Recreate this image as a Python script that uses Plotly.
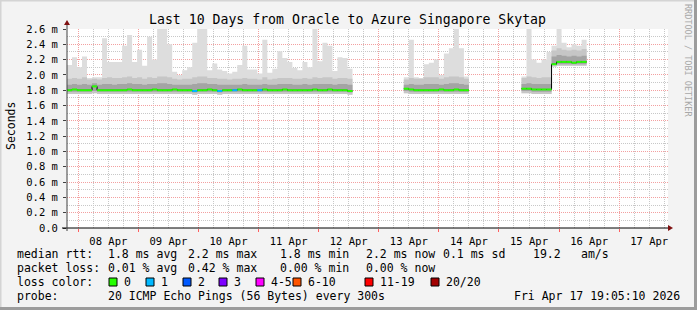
import plotly.graph_objects as go
from datetime import datetime, timedelta

# ---------------- data ----------------
title_text = "Last 10 Days from Oracle to Azure Singapore Skytap"
y_title = "Seconds"
range_start = "2026-04-07 19:30"
range_end = "2026-04-17 19:30"
step_hours = 2
seg_starts = ["2026-04-07 19:30", "2026-04-13 10:00", "2026-04-15 09:00"]
seg_lengths = [57, 13, 13]

max_ms = [
    2.13, 2.23, 2.10, 2.24, 1.96, 1.97, 1.97, 2.48, 2.17, 2.17,
    2.17, 2.38, 2.52, 2.17, 2.33, 2.12, 2.50, 2.20, 2.60, 2.60,
    2.40, 2.04, 2.00, 2.06, 2.10, 2.42, 2.60, 2.60, 2.06, 2.15,
    2.07, 2.05, 2.02, 2.04, 2.13, 2.38, 2.07, 2.07, 2.02, 2.46,
    2.03, 2.08, 2.31, 2.22, 2.17, 2.09, 2.06, 2.17, 2.10, 2.60,
    2.18, 2.42, 2.38, 2.05, 2.23, 2.22, 2.08,
    1.97, 2.46, 1.97, 1.96, 2.14, 2.16, 2.20, 2.00, 2.28, 2.35, 2.60, 2.35, 1.98,
    1.98, 2.60, 2.20, 2.16, 2.20, 2.30, 2.38, 2.60, 2.42, 2.36, 2.40, 2.38, 2.46,
]
p90_ms = [
    1.95, 1.96, 1.95, 1.97, 1.94, 1.95, 1.94, 1.96, 1.97, 1.96,
    1.96, 1.97, 1.98, 1.96, 1.97, 1.95, 1.97, 1.96, 1.98, 1.98,
    1.97, 1.95, 1.94, 1.95, 1.95, 1.97, 1.98, 1.98, 1.96, 1.96,
    1.95, 1.95, 1.94, 1.95, 1.95, 1.96, 1.95, 1.95, 1.94, 1.97,
    1.94, 1.95, 1.96, 1.96, 1.96, 1.95, 1.95, 1.96, 1.95, 1.97,
    1.96, 1.97, 1.97, 1.95, 1.96, 1.96, 1.95,
    1.94, 1.96, 1.95, 1.95, 1.97, 1.97, 1.97, 1.95, 1.97, 1.98, 1.98, 1.97, 1.95,
    1.96, 1.98, 1.97, 1.96, 1.97, 1.97, 2.32, 2.35, 2.33, 2.32, 2.33, 2.32, 2.34,
]
p75_ms = [
    1.87, 1.88, 1.87, 1.88, 1.87, 1.89, 1.87, 1.88, 1.88, 1.87,
    1.88, 1.88, 1.89, 1.88, 1.88, 1.87, 1.88, 1.88, 1.89, 1.89,
    1.88, 1.87, 1.87, 1.87, 1.87, 1.88, 1.89, 1.89, 1.88, 1.88,
    1.87, 1.87, 1.87, 1.87, 1.87, 1.88, 1.87, 1.87, 1.87, 1.88,
    1.87, 1.87, 1.88, 1.88, 1.88, 1.87, 1.87, 1.88, 1.87, 1.88,
    1.88, 1.88, 1.88, 1.87, 1.88, 1.88, 1.87,
    1.87, 1.88, 1.87, 1.87, 1.88, 1.88, 1.88, 1.87, 1.88, 1.89, 1.89, 1.88, 1.87,
    1.88, 1.89, 1.88, 1.88, 1.88, 1.88, 2.24, 2.26, 2.25, 2.24, 2.25, 2.24, 2.25,
]
median_ms = [
    1.80, 1.81, 1.80, 1.80, 1.80, 1.85, 1.80, 1.80, 1.80, 1.80,
    1.80, 1.80, 1.81, 1.80, 1.80, 1.80, 1.80, 1.81, 1.80, 1.80,
    1.80, 1.81, 1.80, 1.80, 1.80, 1.79, 1.80, 1.80, 1.81, 1.80,
    1.79, 1.80, 1.80, 1.80, 1.81, 1.80, 1.80, 1.80, 1.80, 1.81,
    1.80, 1.80, 1.80, 1.81, 1.80, 1.80, 1.80, 1.80, 1.80, 1.81,
    1.80, 1.80, 1.81, 1.80, 1.80, 1.80, 1.79,
    1.82, 1.81, 1.80, 1.80, 1.80, 1.80, 1.80, 1.81, 1.80, 1.80, 1.81, 1.80, 1.80,
    1.82, 1.82, 1.81, 1.81, 1.81, 1.81, 2.14, 2.17, 2.17, 2.17, 2.16, 2.17, 2.17,
]
p25_ms = [
    1.78, 1.78, 1.78, 1.78, 1.78, 1.79, 1.78, 1.78, 1.78, 1.78,
    1.78, 1.78, 1.78, 1.78, 1.78, 1.78, 1.78, 1.78, 1.78, 1.78,
    1.78, 1.78, 1.78, 1.78, 1.78, 1.77, 1.78, 1.78, 1.78, 1.78,
    1.77, 1.78, 1.78, 1.78, 1.78, 1.78, 1.78, 1.78, 1.78, 1.78,
    1.78, 1.78, 1.78, 1.78, 1.78, 1.78, 1.78, 1.78, 1.78, 1.78,
    1.78, 1.78, 1.78, 1.78, 1.78, 1.78, 1.77,
    1.79, 1.78, 1.78, 1.78, 1.78, 1.78, 1.78, 1.78, 1.78, 1.78, 1.78, 1.78, 1.78,
    1.79, 1.79, 1.78, 1.78, 1.78, 1.78, 2.13, 2.14, 2.14, 2.14, 2.14, 2.14, 2.14,
]
min_ms = [
    1.75, 1.75, 1.75, 1.75, 1.75, 1.76, 1.75, 1.75, 1.75, 1.75,
    1.75, 1.75, 1.75, 1.75, 1.75, 1.75, 1.75, 1.75, 1.75, 1.75,
    1.75, 1.75, 1.75, 1.75, 1.75, 1.74, 1.75, 1.75, 1.75, 1.75,
    1.74, 1.75, 1.75, 1.75, 1.75, 1.75, 1.75, 1.75, 1.75, 1.75,
    1.75, 1.75, 1.75, 1.75, 1.75, 1.75, 1.75, 1.75, 1.75, 1.75,
    1.75, 1.75, 1.75, 1.75, 1.75, 1.75, 1.74,
    1.76, 1.75, 1.75, 1.75, 1.75, 1.75, 1.75, 1.75, 1.75, 1.75, 1.75, 1.75, 1.75,
    1.76, 1.76, 1.75, 1.75, 1.75, 1.75, 2.11, 2.12, 2.12, 2.12, 2.12, 2.12, 2.12,
]
loss_count = [0] * 83
for _i in (25, 30, 33, 38):
    loss_count[_i] = 1

y_ticks = [0.0, 0.2, 0.4, 0.6, 0.8, 1.0, 1.2, 1.4, 1.6, 1.8, 2.0, 2.2, 2.4, 2.6]
y_labels = ["0.0"] + [f"{v:.1f} m" for v in y_ticks[1:]]

loss_labels = ["0", "1", "2", "3", "4-5", "6-10", "11-19", "20/20"]
loss_palette = ["#26ff00", "#00b8ff", "#0059ff", "#7e00ff", "#ff00ff", "#ff5500", "#ff0000", "#a10000"]

rtt_stats = ["median rtt:", "1.8 ms avg", "2.2 ms max", "1.8 ms min", "2.2 ms now", "0.1 ms sd", "19.2", "am/s"]
loss_stats = ["packet loss:", "0.01 % avg", "0.42 % max", "0.00 % min", "0.00 % now"]
probe_line = ["probe:", "20 ICMP Echo Pings (56 Bytes) every 300s", "Fri Apr 17 19:05:10 2026"]
watermark = "RRDTOOL / TOBI OETIKER"

# ---------------- layout geometry ----------------
W, H = 697, 310
L, R, T, B = 67, 668, 29, 228
FONT = "DejaVu Sans Mono"


def px(x):
    return (x - L) / (R - L)


def py(y):
    return (B - y) / (B - T)


def loss_color(n):
    if n <= 0:
        return loss_palette[0]
    if n <= 3:
        return loss_palette[n]
    if n <= 5:
        return loss_palette[4]
    if n <= 10:
        return loss_palette[5]
    if n <= 19:
        return loss_palette[6]
    return loss_palette[7]


# build per-interval times
step = timedelta(hours=step_hours)
segments = []  # list of (list of start times, index offset)
idx = 0
for s, n in zip(seg_starts, seg_lengths):
    t0 = datetime.strptime(s, "%Y-%m-%d %H:%M")
    segments.append(([t0 + k * step for k in range(n)], idx))
    idx += n

fig = go.Figure()


def band(lo, hi, color):
    for times, off in segments:
        xs, ys = [], []
        for k, t in enumerate(times):
            xs += [t, t + step]
            ys += [hi[off + k], hi[off + k]]
        for k in range(len(times) - 1, -1, -1):
            t = times[k]
            xs += [t + step, t]
            ys += [lo[off + k], lo[off + k]]
        fig.add_trace(go.Scatter(x=xs, y=ys, mode="lines", fill="toself",
                                 fillcolor=color, line=dict(width=0),
                                 hoverinfo="skip", showlegend=False))


band(min_ms, max_ms, "#dddddd")
band(min_ms, p90_ms, "#c6c6c6")
band(p25_ms, p75_ms, "#a4a4a4")

# black median step line
bx, by = [], []
for times, off in segments:
    for k, t in enumerate(times):
        bx.append(t)
        by.append(median_ms[off + k])
    bx.append(times[-1] + step)
    by.append(median_ms[off + len(times) - 1])
    bx.append(None)
    by.append(None)
fig.add_trace(go.Scatter(x=bx, y=by, mode="lines", line=dict(color="#000000", width=1, shape="hv"),
                         connectgaps=False, hoverinfo="skip", showlegend=False))

# coloured median segments by loss
col_segs = {}
for times, off in segments:
    for k, t in enumerate(times):
        c = loss_color(loss_count[off + k])
        d = col_segs.setdefault(c, ([], []))
        d[0].extend([t, t + step, None])
        v = median_ms[off + k]
        d[1].extend([v, v, None])
for c, (xs, ys) in col_segs.items():
    fig.add_trace(go.Scatter(x=xs, y=ys, mode="lines", line=dict(color=c, width=2),
                             connectgaps=False, hoverinfo="skip", showlegend=False))

annotations = []
shapes = []


def text(x, y, s, size=11.5, color="#000000", anchor="left", angle=0):
    annotations.append(dict(x=px(x), y=py(y), xref="paper", yref="paper", text=s,
                            showarrow=False, xanchor=anchor, yanchor="middle",
                            textangle=angle, borderpad=0,
                            font=dict(family=FONT, size=size, color=color)))


# title
text(347, 19, title_text, size=13.2, anchor="center")
# y title
text(11, 126, y_title, size=11.5, anchor="center", angle=-90)
# watermark
text(688, 60, watermark, size=8.5, color="#a8a8a8", anchor="center", angle=90)

# legend rows
row1_x = [16, 107, 187, 279, 365, 442, 532, 580]
for x, s in zip(row1_x, rtt_stats):
    text(x, 254, s)
row2_x = [16, 107, 187, 279, 365]
for x, s in zip(row2_x, loss_stats):
    text(x, 268, s)
text(16, 282, "loss color:")
box_x = [109, 146, 183, 219, 256, 293, 365, 431]
for x, lab, col in zip(box_x, loss_labels, loss_palette):
    shapes.append(dict(type="rect", xref="paper", yref="paper",
                       x0=px(x), x1=px(x + 8), y0=py(278), y1=py(286),
                       fillcolor=col, line=dict(color="#000000", width=1), layer="above"))
    text(x + 14, 282, lab)
row4_x = [16, 107, 513]
for x, s in zip(row4_x, probe_line):
    text(x, 296, s)

# axis extensions & arrows
axis_col = "#000000"
arrow_col = "#7f1010"
shapes.append(dict(type="line", xref="paper", yref="paper", x0=px(62), x1=px(R), y0=0, y1=0,
                   line=dict(color=axis_col, width=1), layer="above"))
shapes.append(dict(type="line", xref="paper", yref="paper", x0=0, x1=0, y0=py(B + 3), y1=py(23),
                   line=dict(color="#404040", width=1), layer="above"))
shapes.append(dict(type="path", xref="paper", yref="paper",
                   path=f"M {px(R)} {py(B - 3)} L {px(R + 5)} {py(B)} L {px(R)} {py(B + 3)} Z",
                   fillcolor=arrow_col, line=dict(width=0), layer="above"))
shapes.append(dict(type="path", xref="paper", yref="paper",
                   path=f"M {px(L - 3)} {py(25)} L {px(L)} {py(20)} L {px(L + 3)} {py(25)} Z",
                   fillcolor=arrow_col, line=dict(width=0), layer="above"))
# frame
shapes.append(dict(type="line", xref="paper", yref="paper", x0=px(0), x1=px(W), y0=py(0.5), y1=py(0.5),
                   line=dict(color="#d4d4d4", width=2), layer="above"))
shapes.append(dict(type="line", xref="paper", yref="paper", x0=px(0.5), x1=px(0.5), y0=py(0), y1=py(H),
                   line=dict(color="#d4d4d4", width=2), layer="above"))
shapes.append(dict(type="line", xref="paper", yref="paper", x0=px(W - 1.5), x1=px(W - 1.5), y0=py(0), y1=py(H),
                   line=dict(color="#9c9c9c", width=3), layer="above"))
shapes.append(dict(type="line", xref="paper", yref="paper", x0=px(0), x1=px(W), y0=py(H - 1.5), y1=py(H - 1.5),
                   line=dict(color="#9c9c9c", width=3), layer="above"))

major_grid = "#f3a0a0"
minor_grid = "#c8c8c8"

fig.update_layout(
    width=W, height=H,
    margin=dict(l=L, r=W - R, t=T, b=H - B, pad=0),
    paper_bgcolor="#f3f3f3",
    plot_bgcolor="#ffffff",
    showlegend=False,
    hovermode=False,
    annotations=annotations,
    shapes=shapes,
    xaxis=dict(
        type="date",
        range=[range_start, range_end],
        tick0="2026-04-08", dtick=86400000,
        ticklabelmode="period",
        tickformat="%d %b",
        ticks="outside", ticklen=3, tickcolor="#ff6060",
        showgrid=True, gridcolor=major_grid, griddash="1px,1px", gridwidth=1,
        minor=dict(dtick=6 * 3600000, tick0="2026-04-08", showgrid=True,
                   gridcolor=minor_grid, griddash="1px,1px", gridwidth=1, ticks=""),
        showline=False, zeroline=False,
        tickfont=dict(family=FONT, size=10.5, color="#000000"),
        fixedrange=True,
    ),
    yaxis=dict(
        range=[0, 2.6],
        tickvals=y_ticks, ticktext=y_labels,
        ticks="outside", ticklen=3, tickcolor="#404040",
        ticklabelstandoff=3,
        showgrid=True, gridcolor=major_grid, griddash="1px,1px", gridwidth=1,
        minor=dict(dtick=0.1, tick0=0, showgrid=True, gridcolor=minor_grid,
                   griddash="1px,1px", gridwidth=1, ticks=""),
        showline=False, zeroline=False,
        tickfont=dict(family=FONT, size=10.5, color="#000000"),
        fixedrange=True,
    ),
)

fig.write_html("out.html", config={"displayModeBar": False, "staticPlot": True})
